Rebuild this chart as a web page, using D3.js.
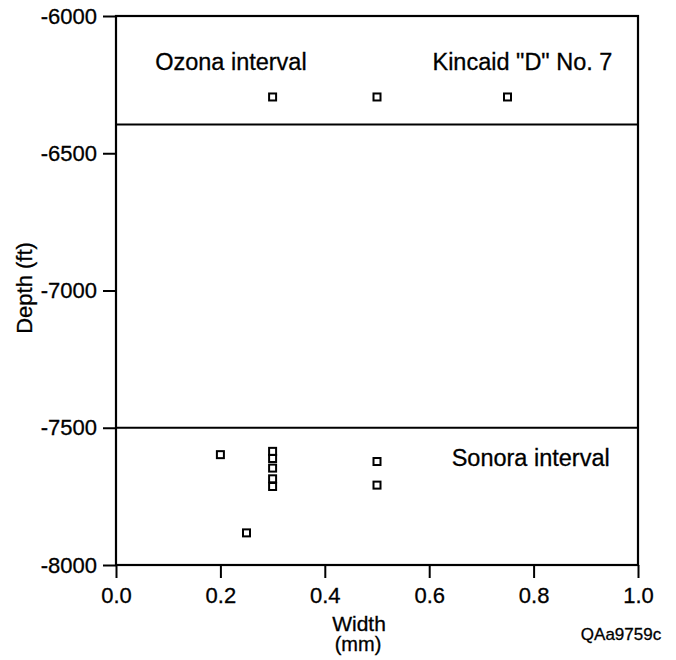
<!DOCTYPE html>
<html>
<head>
<meta charset="utf-8">
<script src="https://d3js.org/d3.v7.min.js"></script>
<style>
body { margin: 0; background: #fff; }
text { font-family: "Liberation Sans", Arial, sans-serif; fill: #000; stroke: #000; stroke-width: 0.3; }
</style>
</head>
<body>
<div id="viz"></div>
<script>
// data
var xTicks = [0.0, 0.2, 0.4, 0.6, 0.8, 1.0];
var yTicks = [-6000, -6500, -7000, -7500, -8000];
var intervalNames = ["Ozona interval", "Sonora interval"];
var intervalBounds = [-6395, -7500];   // base of Ozona, top of Sonora
var wellName = 'Kincaid "D" No. 7';

var ozonaWidth = [0.3, 0.5, 0.75];
var ozonaDepth = [-6295, -6295, -6295];

var sonoraWidth = [0.2, 0.3, 0.3, 0.3, 0.3, 0.3, 0.5, 0.5, 0.25];
var sonoraDepth = [-7598, -7586, -7612, -7647, -7686, -7714, -7623, -7709, -7883];

var W = 676, H = 660;
var margin = {top: 16, right: 38, bottom: 95, left: 116};
var width = W - margin.left - margin.right;
var height = H - margin.top - margin.bottom;

var svg = d3.select("#viz").append("svg")
    .attr("width", W)
    .attr("height", H);

var g = svg.append("g")
    .attr("transform", "translate(" + margin.left + "," + margin.top + ")");

var x = d3.scaleLinear().domain([0, 1]).range([0, width]);
var y = d3.scaleLinear().domain([-6000, -8000]).range([0, height]);

// axes
var yAxis = d3.axisLeft(y).tickValues(yTicks).tickSize(13).tickSizeOuter(0).tickPadding(6)
    .tickFormat(function(d) { return String(d); });
var xAxis = d3.axisBottom(x).tickValues(xTicks).tickSize(13).tickSizeOuter(0).tickPadding(9)
    .tickFormat(d3.format(".1f"));

var ga = g.append("g").call(yAxis);
var gb = g.append("g").attr("transform", "translate(0," + height + ")").call(xAxis);

[ga, gb].forEach(function(a) {
  a.select(".domain").remove();
  a.selectAll(".tick line").attr("stroke", "#000").attr("stroke-width", 2);
  a.selectAll(".tick text").attr("font-size", 22).attr("fill", "#000")
    .style("font-family", '"Liberation Sans", Arial, sans-serif');
});

// frame
g.append("rect")
  .attr("x", 0).attr("y", 0)
  .attr("width", width).attr("height", height)
  .attr("fill", "none").attr("stroke", "#000").attr("stroke-width", 2.2);

// interval boundaries
g.selectAll(".bound").data(intervalBounds).enter().append("line")
  .attr("x1", 0).attr("x2", width)
  .attr("y1", function(d) { return y(d); })
  .attr("y2", function(d) { return y(d); })
  .attr("stroke", "#000").attr("stroke-width", 2);

// interval labels
g.append("text").attr("x", x(0.075)).attr("y", y(-6198)).attr("font-size", 23.5)
  .text(intervalNames[0]);
g.append("text").attr("x", x(0.951)).attr("y", y(-6198)).attr("font-size", 23.5)
  .attr("text-anchor", "end").text(wellName);
g.append("text").attr("x", x(0.643)).attr("y", y(-7638)).attr("font-size", 23.5)
  .text(intervalNames[1]);

// points
function squares(ws, ds) {
  var pts = ws.map(function(w, i) { return [w, ds[i]]; });
  g.append("g").selectAll("rect").data(pts).enter().append("rect")
    .attr("x", function(d) { return x(d[0]) - 3.5; })
    .attr("y", function(d) { return y(d[1]) - 3.5; })
    .attr("width", 7).attr("height", 7)
    .attr("fill", "#fff").attr("stroke", "#000").attr("stroke-width", 2);
}
squares(ozonaWidth, ozonaDepth);
squares(sonoraWidth, sonoraDepth);

// axis titles
svg.append("text")
  .attr("transform", "translate(32,288) rotate(-90)")
  .attr("text-anchor", "middle").attr("font-size", 22)
  .text("Depth (ft)");

svg.append("text").attr("x", 359).attr("y", 631)
  .attr("text-anchor", "middle").attr("font-size", 21).text("Width");
svg.append("text").attr("x", 358).attr("y", 651)
  .attr("text-anchor", "middle").attr("font-size", 20).text("(mm)");

svg.append("text").attr("x", 621).attr("y", 640)
  .attr("text-anchor", "middle").attr("font-size", 17).text("QAa9759c");
</script>
</body>
</html>
